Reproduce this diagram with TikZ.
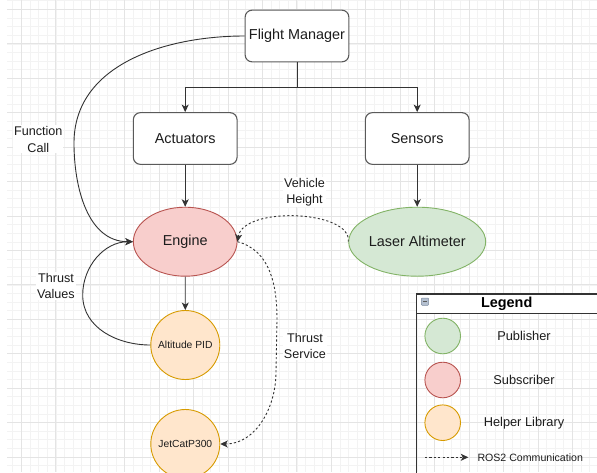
\documentclass[tikz,border=0pt]{standalone}
\usepackage{fontspec}
\setmainfont{Liberation Sans}
\usetikzlibrary{shapes.geometric,arrows.meta}

\definecolor{minorgrid}{HTML}{F3F3F3}
\definecolor{majorgrid}{HTML}{E4E4E4}
\definecolor{boxline}{HTML}{5A5A5A}
\definecolor{edgeline}{HTML}{333333}
\definecolor{txt}{HTML}{1C1C1C}
\definecolor{subfill}{HTML}{F8CECC}
\definecolor{subline}{HTML}{B85450}
\definecolor{pubfill}{HTML}{D5E8D4}
\definecolor{publine}{HTML}{82B366}
\definecolor{helpfill}{HTML}{FFE6CC}
\definecolor{helpline}{HTML}{D79B00}
\definecolor{iconfill}{HTML}{B4C0D0}
\definecolor{iconline}{HTML}{7E8CA0}

\newcommand\mainlbl{\fontsize{14.4}{17}\selectfont}
\newcommand\edgelbl{\fontsize{12.6}{16.4}\selectfont}
\newcommand\smalllbl{\fontsize{10.3}{12}\selectfont}
\newcommand\legendlbl{\fontsize{12.8}{15}\selectfont}
\newcommand\roslbl{\fontsize{10.6}{12}\selectfont}

\tikzset{
  box/.style={draw=boxline, rounded corners=7pt, line width=1.1pt, fill=white,
    minimum width=103.7pt, minimum height=51.7pt, inner sep=0pt, font=\mainlbl, text=txt},
  subnode/.style={ellipse, draw=subline, fill=subfill, line width=0.9pt,
    minimum width=103.7pt, minimum height=69pt, inner sep=0pt, font=\mainlbl, text=txt},
  pubnode/.style={ellipse, draw=publine, fill=pubfill, line width=0.9pt,
    minimum width=103.7pt, minimum height=69pt, inner sep=0pt, font=\mainlbl, text=txt},
  helpnode/.style={circle, draw=helpline, fill=helpfill, line width=0.9pt,
    minimum size=69pt, inner sep=0pt, font=\smalllbl, text=txt},
  keydot/.style={circle, line width=0.9pt, minimum size=35.6pt, inner sep=0pt},
  arr/.style={draw=edgeline, line width=0.9pt,
    -{Stealth[length=7.5pt,width=7pt,inset=2pt]}},
  dasharr/.style={arr, dash pattern=on 2.2pt off 2.2pt},
  elabel/.style={fill=white, inner sep=1pt, align=center, font=\edgelbl, text=txt},
  legendtext/.style={font=\legendlbl, text=txt, inner sep=0pt},
}

\begin{document}
\begin{tikzpicture}[x=1pt, y=-1pt]
\useasboundingbox (0,0) rectangle (597,472);
\clip (0,0) rectangle (597,472);

% background grid
\foreach \i in {0,...,67}
  \draw[minorgrid, line width=0.6pt] ({12.79+8.6075*\i},0) -- ({12.79+8.6075*\i},472);
\foreach \j in {0,...,54}
  \draw[minorgrid, line width=0.6pt] (7,{0.79+8.6075*\j}) -- (597,{0.79+8.6075*\j});
\foreach \i in {0,...,16}
  \draw[majorgrid, line width=0.7pt] ({21.4+34.43*\i},0) -- ({21.4+34.43*\i},472);
\foreach \j in {0,...,13}
  \draw[majorgrid, line width=0.7pt] (7,{9.4+34.43*\j}) -- (597,{9.4+34.43*\j});

% components
\node[box] (fm)  at (297,36)      {Flight Manager};
\node[box] (act) at (185.2,138.5) {Actuators};
\node[box] (sen) at (417.2,138.5) {Sensors};
\node[subnode] (eng) at (185.2,241.7) {Engine};
\node[pubnode] (las) at (417.2,241.7) {Laser Altimeter};
\node[helpnode] (pid) at (185.3,345) {Altitude PID};
\node[helpnode] (jet) at (185.3,444) {JetCatP300};

% hierarchy
\coordinate (fork) at (297,87.3);
\draw[arr] (fm.south) -- (fork) -| (act.north);
\draw[arr] (fm.south) -- (fork) -| (sen.north);
\draw[arr] (act.south) -- (eng.north);
\draw[arr] (sen.south) -- (las.north);
\draw[arr] (eng.south) -- (pid.north);

% function call and thrust values
\coordinate (fcbend) at (74,143);
\draw[arr] (fm.west) to[out=180,in=90] (fcbend) to[out=-90,in=180] (eng.west);
\coordinate (tvbend) at (82.7,295);
\draw[arr] (pid.west) to[out=180,in=-90] (tvbend) to[out=90,in=180] (eng.west);

% ROS2 links
\draw[dasharr] (las.west) .. controls (352,210) and (243,206) .. (eng.east);
\coordinate (ts1) at (277,320);
\coordinate (ts2) at (276,372);
\draw[dasharr] (eng.east) to[out=-15,in=90] (ts1) -- (ts2) to[out=-90,in=0] (jet.east);

% edge labels
\node[elabel] (lfc) at (38.3,139.3) {Function\\Call};
\node[elabel] (ltv) at (56,286)     {Thrust\\Values};
\node[elabel] (lvh) at (304.5,192)  {Vehicle\\Height};
\node[elabel] (lts) at (305,346)    {Thrust\\Service};

% legend
\fill[white] (416.7,294) rectangle (600,313.3);
\draw[edgeline, line width=1.1pt] (416.7,480) -- (416.7,294) -- (600,294);
\draw[edgeline, line width=1.1pt] (416.7,313.3) -- (600,313.3);
\draw[iconline, fill=iconfill, line width=0.5pt, rounded corners=1pt] (421.3,298) rectangle (428.7,305.4);
\draw[edgeline!80, line width=0.9pt] (423,301.7) -- (427,301.7);
\node[font=\mainlbl\bfseries, text=black, inner sep=0pt] (lgt) at (506.7,304) {Legend};

\node[keydot, draw=publine, fill=pubfill] (kpub) at (442.7,336) {};
\node[keydot, draw=subline, fill=subfill] (ksub) at (442.7,380) {};
\node[keydot, draw=helpline, fill=helpfill] (khelp) at (442.7,422.7) {};
\node[legendtext] (tpub) at (524,336) {Publisher};
\node[legendtext] (tsub) at (524,380) {Subscriber};
\node[legendtext] (thelp) at (524,422.7) {Helper Library};

\coordinate (kr1) at (425,457.3);
\node[font=\roslbl, text=txt, inner sep=0pt, anchor=west] (tros) at (477.3,457.3) {ROS2 Communication};
\draw[dasharr, line width=0.8pt] (kr1) -- ([xshift=-9pt]tros.west);
\end{tikzpicture}
\end{document}
